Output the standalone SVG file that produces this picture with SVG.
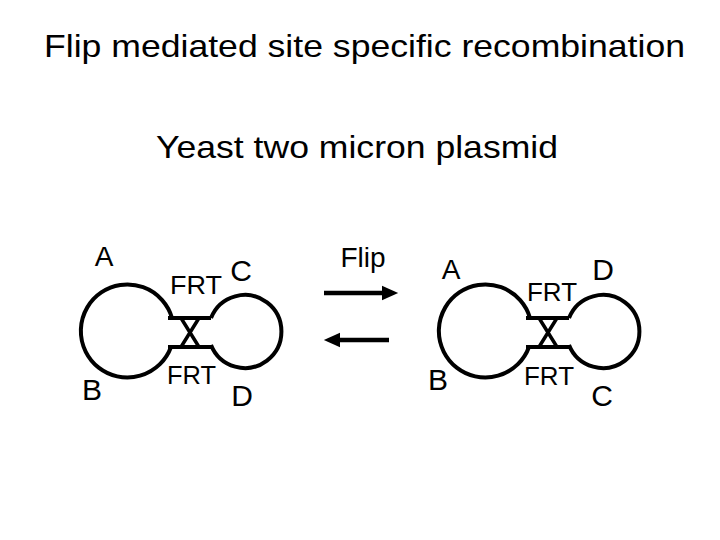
<svg xmlns="http://www.w3.org/2000/svg" width="720" height="540" viewBox="0 0 720 540">
<style>
text{font-family:"Liberation Sans",Arial,sans-serif;fill:#000}
.t{font-size:32px}
.l{font-size:30px;text-anchor:middle}
.a{font-size:28px;text-anchor:middle}
.f{font-size:25px}
.ln{fill:none;stroke:#000;stroke-width:4}
.x{fill:none;stroke:#000;stroke-width:3.5}
</style>
<defs>
<marker id="ah" markerWidth="4" markerHeight="4" refX="0" refY="2" orient="auto" markerUnits="strokeWidth" viewBox="0 0 4 4">
<path d="M0,0.4 L3.6,2 L0,3.6 Z" fill="#000"/>
</marker>
</defs>
<rect width="720" height="540" fill="#fff"/>
<g id="title">
<text class="t" x="44" y="57" textLength="641" lengthAdjust="spacingAndGlyphs">Flip mediated site specific recombination</text>
</g>
<g id="subtitle">
<text class="t" x="156" y="158" textLength="402" lengthAdjust="spacingAndGlyphs">Yeast two micron plasmid</text>
</g>
<g id="plasmid-left">
<path class="ln" d="M172 318 A46.5 46.5 0 1 0 171 347"/>
<path class="ln" d="M211 318 A36.5 36.5 0 1 1 211 345"/>
<path class="ln" d="M168 318 H211 M168 347 H211"/>
<path class="x" d="M181 318 L199 347 M199 318 L181 347"/>
<text class="a" x="104" y="266">A</text>
<text class="l" x="92" y="400">B</text>
<text class="l" x="241" y="281">C</text>
<text class="l" x="242" y="406">D</text>
<text class="f" x="170" y="294" textLength="52" lengthAdjust="spacingAndGlyphs">FRT</text>
<text class="f" x="167" y="384" textLength="49" lengthAdjust="spacingAndGlyphs">FRT</text>
</g>
<g id="plasmid-right">
<path class="ln" d="M530 318 A46.5 46.5 0 1 0 529 347"/>
<path class="ln" d="M569 318 A36.5 36.5 0 1 1 569 345"/>
<path class="ln" d="M526 318 H569 M526 347 H569"/>
<path class="x" d="M539 318 L557 347 M557 318 L539 347"/>
<text class="a" x="451" y="279">A</text>
<text class="l" x="438" y="390">B</text>
<text class="l" x="603" y="280">D</text>
<text class="l" x="602" y="406">C</text>
<text class="f" x="527" y="301" textLength="50" lengthAdjust="spacingAndGlyphs">FRT</text>
<text class="f" x="524" y="385" textLength="50" lengthAdjust="spacingAndGlyphs">FRT</text>
</g>
<g id="flip-label">
<text class="a" x="363" y="267">Flip</text>
</g>
<g id="connectors">
<path d="M324 293 H382" stroke="#000" stroke-width="4.5" fill="none" marker-end="url(#ah)"/>
<path d="M389 340 H340" stroke="#000" stroke-width="4.5" fill="none" marker-end="url(#ah)"/>
</g>
</svg>
